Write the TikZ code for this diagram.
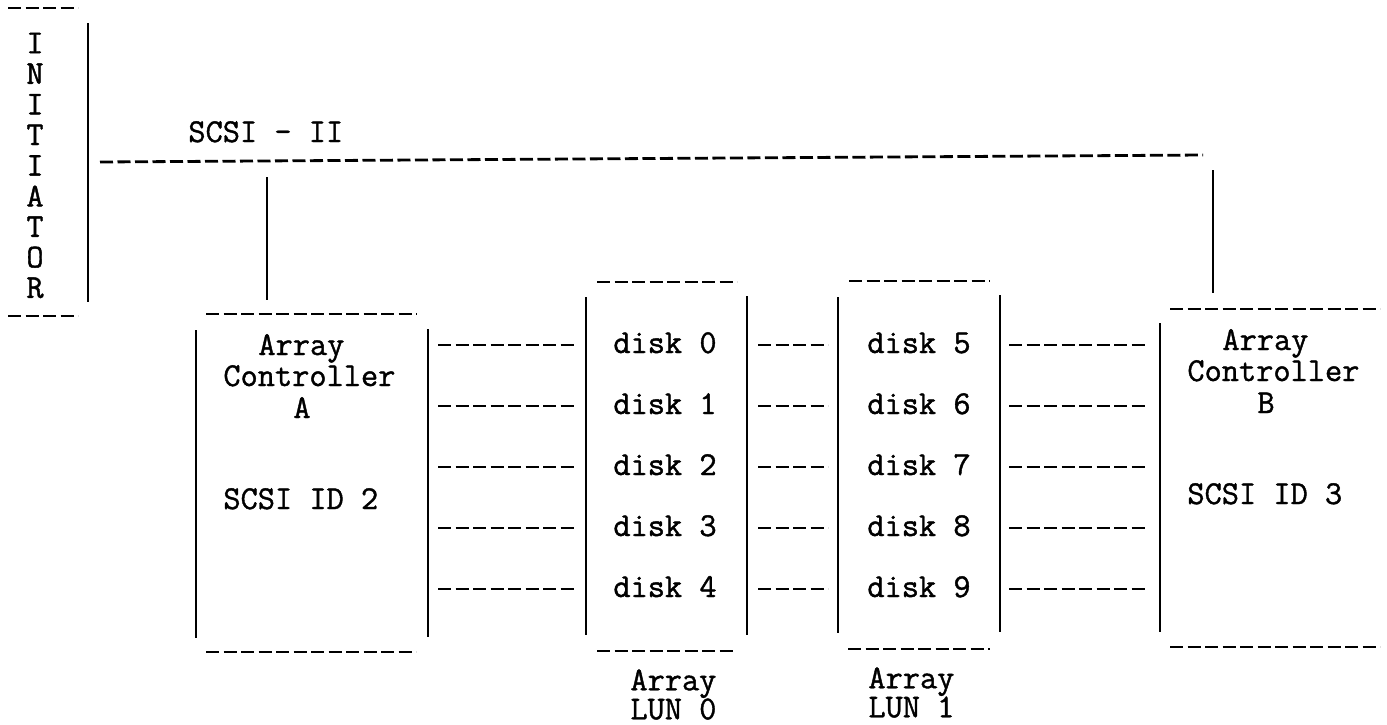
\documentclass[tikz,border=0pt]{standalone}
\usepackage{fontspec}
\newfontfamily\twfont{Latin Modern Mono}[FakeBold=1.2]
\begin{document}
\begin{tikzpicture}[x=0.5pt,y=-0.5pt,
  txt/.style={font=\fontsize{16.7}{20}\selectfont\twfont, inner sep=0pt, anchor=base west},
  lunlab/.style={font=\fontsize{16.7}{14.5}\selectfont\twfont, inner sep=0pt, anchor=north west, align=left},
  vline/.style={line width=1.2pt},
  dline/.style={line width=1.4pt, dash pattern=on 6.5pt off 2.25pt}]
\useasboundingbox (0,0) rectangle (1387,724);
% initiator
\draw[dline] (8,8) -- (78,8);
\draw[dline] (8,316) -- (78,316);
\foreach \c [count=\i from 0] in {I,N,I,T,I,A,T,O,R}
  \node[txt, anchor=center] (ini\i) at (35,{43+30.6*\i}) {\c};
\draw[vline] (88,23) -- (88,302);
% bus
\node[txt] (bus) at (188,142) {SCSI - II};
\coordinate (busL) at (100,162);
\coordinate (busR) at (1203,155);
\draw[dline] (busL) -- (busR);
\draw[vline] (267,177) -- (267,300);
\draw[vline] (1213,170) -- (1213,293);
% controller A
\draw[dline] (206,314) -- (417,314);
\draw[dline] (206,652) -- (416,652);
\draw[vline] (196,330) -- (196,638);
\draw[vline] (428,329) -- (428,637);
\node[txt] (cA1) at (258,355) {Array};
\node[txt] (cA2) at (223,386) {Controller};
\node[txt] (cA3) at (293,418) {A};
\node[txt] (cA4) at (223,509) {SCSI ID 2};
% LUN 0
\draw[dline] (597,282) -- (737,282);
\draw[dline] (597,651) -- (736,651);
\draw[vline] (586,297) -- (586,635);
\draw[vline] (747,296) -- (747,635);
\node[lunlab] (l0) at (630,669) {Array\\LUN 0};
% LUN 1
\draw[dline] (849,281) -- (990,281);
\draw[dline] (848,649) -- (990,649);
\draw[vline] (838,297) -- (838,633);
\draw[vline] (1000,295) -- (1000,632);
\node[lunlab] (l1) at (868,667) {Array\\LUN 1};
% controller B
\draw[dline] (1170,309) -- (1380,309);
\draw[dline] (1170,647) -- (1380,647);
\draw[vline] (1160,323) -- (1160,632);
\node[txt] (cB1) at (1222,350) {Array};
\node[txt] (cB2) at (1187,381) {Controller};
\node[txt] (cB3) at (1257,413) {B};
\node[txt] (cB4) at (1187,504) {SCSI ID 3};
% disks and links
\foreach \k [count=\i from 0] in {353,414,475,536,597} {
  \pgfmathtruncatemacro{\j}{\i+5}
  \node[txt] (d\i) at (613,\k) {disk \i};
  \node[txt] (d\j) at (867,\k) {disk \j};
  \draw[dline] (438,\k-8) -- (575,\k-8);
  \draw[dline] (758,\k-8) -- (828,\k-8);
  \draw[dline] (1009,\k-8) -- (1148,\k-8);
}
\end{tikzpicture}
\end{document}
